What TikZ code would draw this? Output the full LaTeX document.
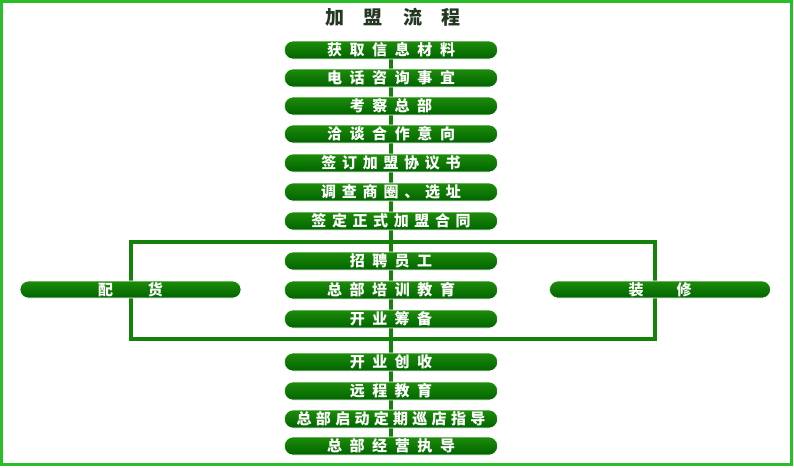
\documentclass[tikz,border=0pt]{standalone}
\usepackage{fontspec}
\newfontfamily\cjk{Noto Sans CJK SC}
\makeatletter
\newcommand\spc[2]{\def\sp@k{#1}\sp@first#2\relax}
\def\sp@first#1{#1\sp@rest}
\def\sp@rest#1{\ifx\relax#1\else\kern\sp@k\relax#1\expandafter\sp@rest\fi}
\makeatother
\definecolor{frameg}{RGB}{40,190,40}
\definecolor{lineg}{RGB}{20,130,10}
\definecolor{pilltop}{RGB}{30,140,10}
\definecolor{pillmid}{RGB}{85,200,30}
\definecolor{pillbot}{RGB}{0,100,0}
\definecolor{titlec}{RGB}{35,55,35}
\pgfdeclarelayer{back}
\pgfsetlayers{back,main}
\tikzset{
  pill/.style={shape=rectangle, rounded corners=8.5pt, minimum width=213pt, minimum height=18pt,
    inner sep=0pt, top color=pilltop, middle color=pillmid, bottom color=pillbot,
    draw=white, line width=0.6pt, text=white, font=\cjk\bfseries\fontsize{15pt}{15pt}\selectfont},
  sidepill/.style={pill, minimum width=221pt, minimum height=17pt},
  conn/.style={draw=lineg, line width=4pt},
  box/.style={draw=lineg, line width=4pt},
  outer/.style={draw=frameg, line width=2.5pt}
}
\begin{document}
\begin{tikzpicture}[x=1pt,y=-1pt]
\useasboundingbox (0,0) rectangle (794,467);
\draw[outer] (1.5,1.5) rectangle (791.5,464.5);
\node[text=titlec, font=\cjk\bfseries\fontsize{19pt}{19pt}\selectfont] (title) at (393,17) {\spc{20pt}{加盟流程}};
% inner frame
\coordinate (bTL) at (130.5,242);
\coordinate (bBR) at (654.5,339);
\draw[box] (bTL) rectangle (bBR);
% pills
\node[pill] (p1) at (391,50) {\spc{7.6pt}{获取信息材料}};
\node[pill] (p2) at (391,78) {\spc{7.6pt}{电话咨询事宜}};
\node[pill] (p3) at (391,106) {\spc{7.4pt}{考察总部}};
\node[pill] (p4) at (391,134) {\spc{7.6pt}{洽谈合作意向}};
\node[pill] (p5) at (391,163) {\spc{5.7pt}{签订加盟协议书}};
\node[pill] (p6) at (391,192) {\spc{5.8pt}{调查商圈、选址}};
\node[pill] (p7) at (391,221) {\spc{5.6pt}{签定正式加盟合同}};
\node[pill] (p8) at (391,261) {\spc{7.4pt}{招聘员工}};
\node[pill] (p9) at (391,290) {\spc{7.6pt}{总部培训教育}};
\node[pill] (p10) at (391,319) {\spc{7.4pt}{开业筹备}};
\node[pill] (p11) at (391,362) {\spc{7.4pt}{开业创收}};
\node[pill] (p12) at (391,391) {\spc{7.4pt}{远程教育}};
\node[pill] (p13) at (391,419) {\spc{4.3pt}{总部启动定期巡店指导}};
\node[pill] (p14) at (391,446) {\spc{7.6pt}{总部经营执导}};
\node[sidepill] (L) at (130.5,289.5) {\spc{35pt}{配货}};
\node[sidepill] (R) at (660,289.5) {\spc{33pt}{装修}};
% connectors behind pills
\begin{pgfonlayer}{back}
\foreach \a/\b in {p1/p2,p2/p3,p3/p4,p4/p5,p5/p6,p6/p7,p7/p8,p8/p9,p9/p10,p10/p11,p11/p12,p12/p13,p13/p14}
  \draw[conn] (\a.center) -- (\b.center);
\end{pgfonlayer}
\end{tikzpicture}
\end{document}
